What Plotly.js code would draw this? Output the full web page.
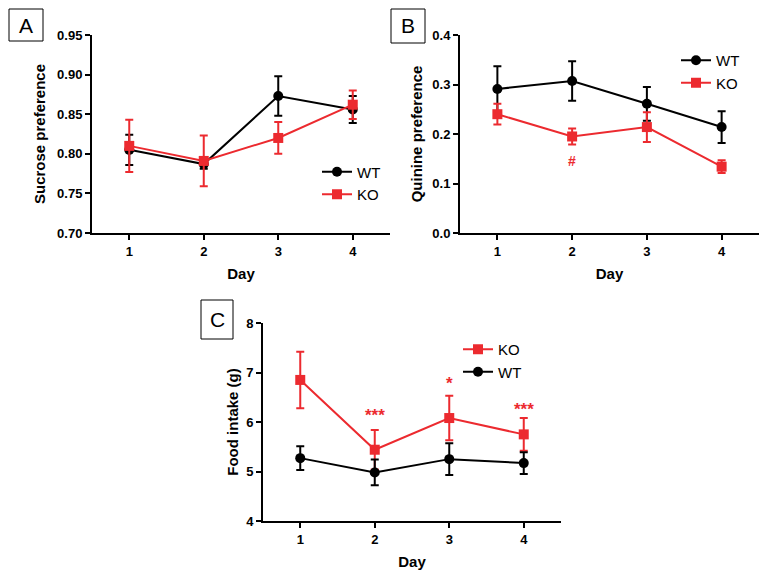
<!DOCTYPE html>
<html>
<head>
<meta charset="utf-8">
<script src="https://cdn.plot.ly/plotly-3.0.1.min.js"></script>
<style>html,body{margin:0;padding:0;background:#fff;}#chart{width:768px;height:581px;}</style>
</head>
<body>
<div id="chart"></div>
<script>
// ---- data ----
const days = [1, 2, 3, 4];
const dayTicks = ['1', '2', '3', '4'];

// Panel A: sucrose preference
const sucroseWT = [0.805, 0.787, 0.873, 0.856];
const sucroseWTerr = [0.019, 0.006, 0.025, 0.017];
const sucroseKO = [0.810, 0.791, 0.820, 0.862];
const sucroseKOerr = [0.033, 0.032, 0.020, 0.018];

// Panel B: quinine preference
const quinineWT = [0.291, 0.307, 0.261, 0.214];
const quinineWTerr = [0.046, 0.040, 0.034, 0.032];
const quinineKO = [0.240, 0.195, 0.214, 0.134];
const quinineKOerr = [0.021, 0.016, 0.030, 0.013];

// Panel C: food intake (g)
const foodKO = [6.85, 5.44, 6.08, 5.75];
const foodKOerr = [0.57, 0.40, 0.45, 0.33];
const foodWT = [5.27, 4.98, 5.25, 5.17];
const foodWTerr = [0.24, 0.26, 0.32, 0.22];

// significance marks
const markB = {day: 2, y: 0.145, text: '#'};
const marksC = [
  {day: 2, y: 6.14, text: '***'},
  {day: 3, y: 6.77, text: '*'},
  {day: 4, y: 6.26, text: '***'}
];

// ---- style ----
const RED = '#ec2a2f';
const BLACK = '#000000';
const FONT = 'Liberation Sans, Arial, sans-serif';
const W = 768, H = 581;
const px = v => v / W;
const py = v => 1 - v / H;

function series(x, y, err, color, symbol, name, xa, ya, legend) {
  return {
    x: x, y: y, name: name, type: 'scatter', mode: 'lines+markers',
    xaxis: xa, yaxis: ya, legend: legend,
    line: {color: color, width: 2},
    marker: {color: color, symbol: symbol, size: 10},
    error_y: {type: 'data', array: err, visible: true, color: color, thickness: 2, width: 4},
    cliponaxis: false
  };
}

const traces = [
  series(days, sucroseWT, sucroseWTerr, BLACK, 'circle', 'WT', 'x', 'y', 'legend'),
  series(days, sucroseKO, sucroseKOerr, RED, 'square', 'KO', 'x', 'y', 'legend'),
  series(days, quinineWT, quinineWTerr, BLACK, 'circle', 'WT', 'x2', 'y2', 'legend2'),
  series(days, quinineKO, quinineKOerr, RED, 'square', 'KO', 'x2', 'y2', 'legend2'),
  series(days, foodKO, foodKOerr, RED, 'square', 'KO', 'x3', 'y3', 'legend3'),
  series(days, foodWT, foodWTerr, BLACK, 'circle', 'WT', 'x3', 'y3', 'legend3')
];

function xax(domain, anchor) {
  return {
    domain: domain, anchor: anchor, range: [0.5, 4.5],
    tickvals: days, ticktext: dayTicks,
    showgrid: false, zeroline: false, showline: true, linecolor: BLACK, linewidth: 2,
    ticks: 'outside', ticklen: 5, tickwidth: 2, tickcolor: BLACK,
    tickfont: {family: FONT, size: 13, color: BLACK, weight: 'bold'},
    title: {text: 'Day', font: {family: FONT, size: 15, color: BLACK, weight: 'bold'}, standoff: 11},
    fixedrange: true
  };
}
function yax(domain, anchor, range, dtick, fmt, title, standoff) {
  return {
    domain: domain, anchor: anchor, range: range, dtick: dtick, tick0: range[0], tickformat: fmt,
    showgrid: false, zeroline: false, showline: true, linecolor: BLACK, linewidth: 2,
    ticks: 'outside', ticklen: 5, tickwidth: 2, tickcolor: BLACK,
    tickfont: {family: FONT, size: 13, color: BLACK, weight: 'bold'},
    title: {text: title, font: {family: FONT, size: 15, color: BLACK, weight: 'bold'}, standoff: standoff},
    fixedrange: true
  };
}

function legendAt(x, y) {
  return {
    x: x, y: y, xanchor: 'left', yanchor: 'top', bgcolor: 'rgba(0,0,0,0)',
    font: {family: FONT, size: 15, color: BLACK}, traceorder: 'normal',
    itemwidth: 30, tracegroupgap: 0
  };
}

function letterBox(x0, y0, x1, y1, letter) {
  return {
    shape: {type: 'rect', xref: 'paper', yref: 'paper', x0: px(x0), x1: px(x1), y0: py(y1), y1: py(y0),
            line: {color: BLACK, width: 1}, fillcolor: 'rgba(0,0,0,0)'},
    ann: {xref: 'paper', yref: 'paper', x: px((x0 + x1) / 2), y: py((y0 + y1) / 2),
          text: letter, showarrow: false, xanchor: 'center', yanchor: 'middle',
          font: {family: FONT, size: 21, color: BLACK}}
  };
}
const boxes = [
  letterBox(9, 9, 43, 41, 'A'),
  letterBox(391, 9, 425, 43, 'B'),
  letterBox(201, 300, 233, 339, 'C')
];

const annotations = boxes.map(b => b.ann);
annotations.push({xref: 'x2', yref: 'y2', x: markB.day, y: markB.y, text: markB.text, showarrow: false,
  font: {family: FONT, size: 14, color: RED, weight: 'bold'}});
marksC.forEach(m => annotations.push({xref: 'x3', yref: 'y3', x: m.day, y: m.y, text: m.text, showarrow: false,
  font: {family: FONT, size: 17, color: RED, weight: 'bold'}}));

const layout = {
  width: W, height: H,
  margin: {l: 0, r: 0, t: 0, b: 0},
  paper_bgcolor: '#ffffff', plot_bgcolor: '#ffffff',
  showlegend: true,
  xaxis: xax([px(92), px(390)], 'y'),
  yaxis: yax([py(233), py(35)], 'x', [0.70, 0.95], 0.05, '.2f', 'Sucrose preference', 8),
  xaxis2: xax([px(460), px(759)], 'y2'),
  yaxis2: yax([py(233), py(35)], 'x2', [0, 0.4], 0.1, '.1f', 'Quinine preference', 6),
  xaxis3: xax([px(263), px(561)], 'y3'),
  yaxis3: yax([py(521), py(323)], 'x3', [4, 8], 1, 'd', 'Food intake (g)', 4),
  legend: legendAt(px(317), py(155.5)),
  legend2: legendAt(px(676), py(44)),
  legend3: legendAt(px(458), py(333)),
  shapes: boxes.map(b => b.shape),
  annotations: annotations
};

Plotly.newPlot('chart', traces, layout, {staticPlot: true, displayModeBar: false});
</script>
</body>
</html>
